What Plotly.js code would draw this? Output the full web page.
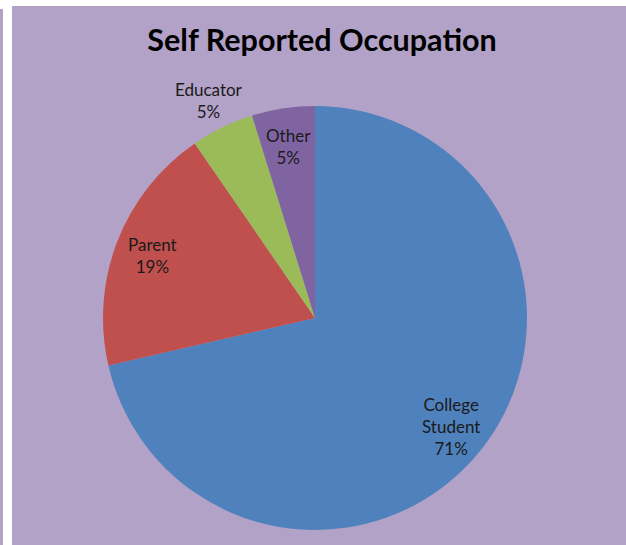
<!DOCTYPE html>
<html>
<head>
<meta charset="utf-8">
<script src="https://cdn.plot.ly/plotly-3.0.1.min.js"></script>
<style>
  html, body { margin: 0; padding: 0; background: #ffffff; }
  body { width: 626px; height: 545px; position: relative; overflow: hidden; }
  #strip { position: absolute; left: 0; top: 9px; width: 3px; height: 536px; background: #B3A2C7; }
  #chart { position: absolute; left: 12px; top: 6px; width: 614px; height: 539px; }
</style>
</head>
<body>
<div id="strip"></div>
<div id="chart"></div>
<script>
// ---- data ----
const categories = ['College Student', 'Parent', 'Educator', 'Other'];
const displayLabels = ['College<br>Student', 'Parent', 'Educator', 'Other'];
const values = [71.4, 19.0, 4.8, 4.8];
const labelOutside = [false, false, true, false];
const sliceColors = ['#4F81BD', '#C0504D', '#9BBB59', '#8064A2'];

// ---- label positions derived from the data (clockwise from 12 o'clock) ----
const total = values.reduce((a, b) => a + b, 0);
const annotations = [];
let cum = 0;
values.forEach((v, i) => {
  const midFrac = (cum + v / 2) / total;
  cum += v;
  const theta = midFrac * 2 * Math.PI;
  const f = labelOutside[i] ? 1.14 : 0.82;
  const pct = Math.round(v / total * 100) + '%';
  annotations.push({
    xref: 'paper', yref: 'paper',
    x: 0.5 + 0.5 * f * Math.sin(theta),
    y: 0.5 + 0.5 * f * Math.cos(theta),
    xanchor: 'center', yanchor: 'middle',
    text: displayLabels[i] + '<br>' + pct,
    showarrow: false,
    font: { family: 'Lato, "Open Sans", sans-serif', size: 17, color: '#1a1a1a' }
  });
});

const trace = {
  type: 'pie',
  labels: categories,
  values: values,
  sort: false,
  direction: 'clockwise',
  rotation: 0,
  textinfo: 'none',
  hoverinfo: 'label+percent',
  marker: { colors: sliceColors, line: { width: 0 } },
  showlegend: false
};

const layout = {
  width: 614,
  height: 539,
  paper_bgcolor: '#B3A2C7',
  plot_bgcolor: '#B3A2C7',
  margin: { l: 91, r: 99, t: 100, b: 15 },
  title: {
    text: '<b>Self Reported Occupation</b>',
    xref: 'container', yref: 'container',
    x: 0.505, y: 0.936,
    xanchor: 'center', yanchor: 'middle',
    font: { family: 'Lato, "Open Sans", sans-serif', size: 30.5, color: '#000000' }
  },
  annotations: annotations,
  showlegend: false
};

Plotly.newPlot('chart', [trace], layout, { displayModeBar: false, staticPlot: true });
</script>
</body>
</html>
